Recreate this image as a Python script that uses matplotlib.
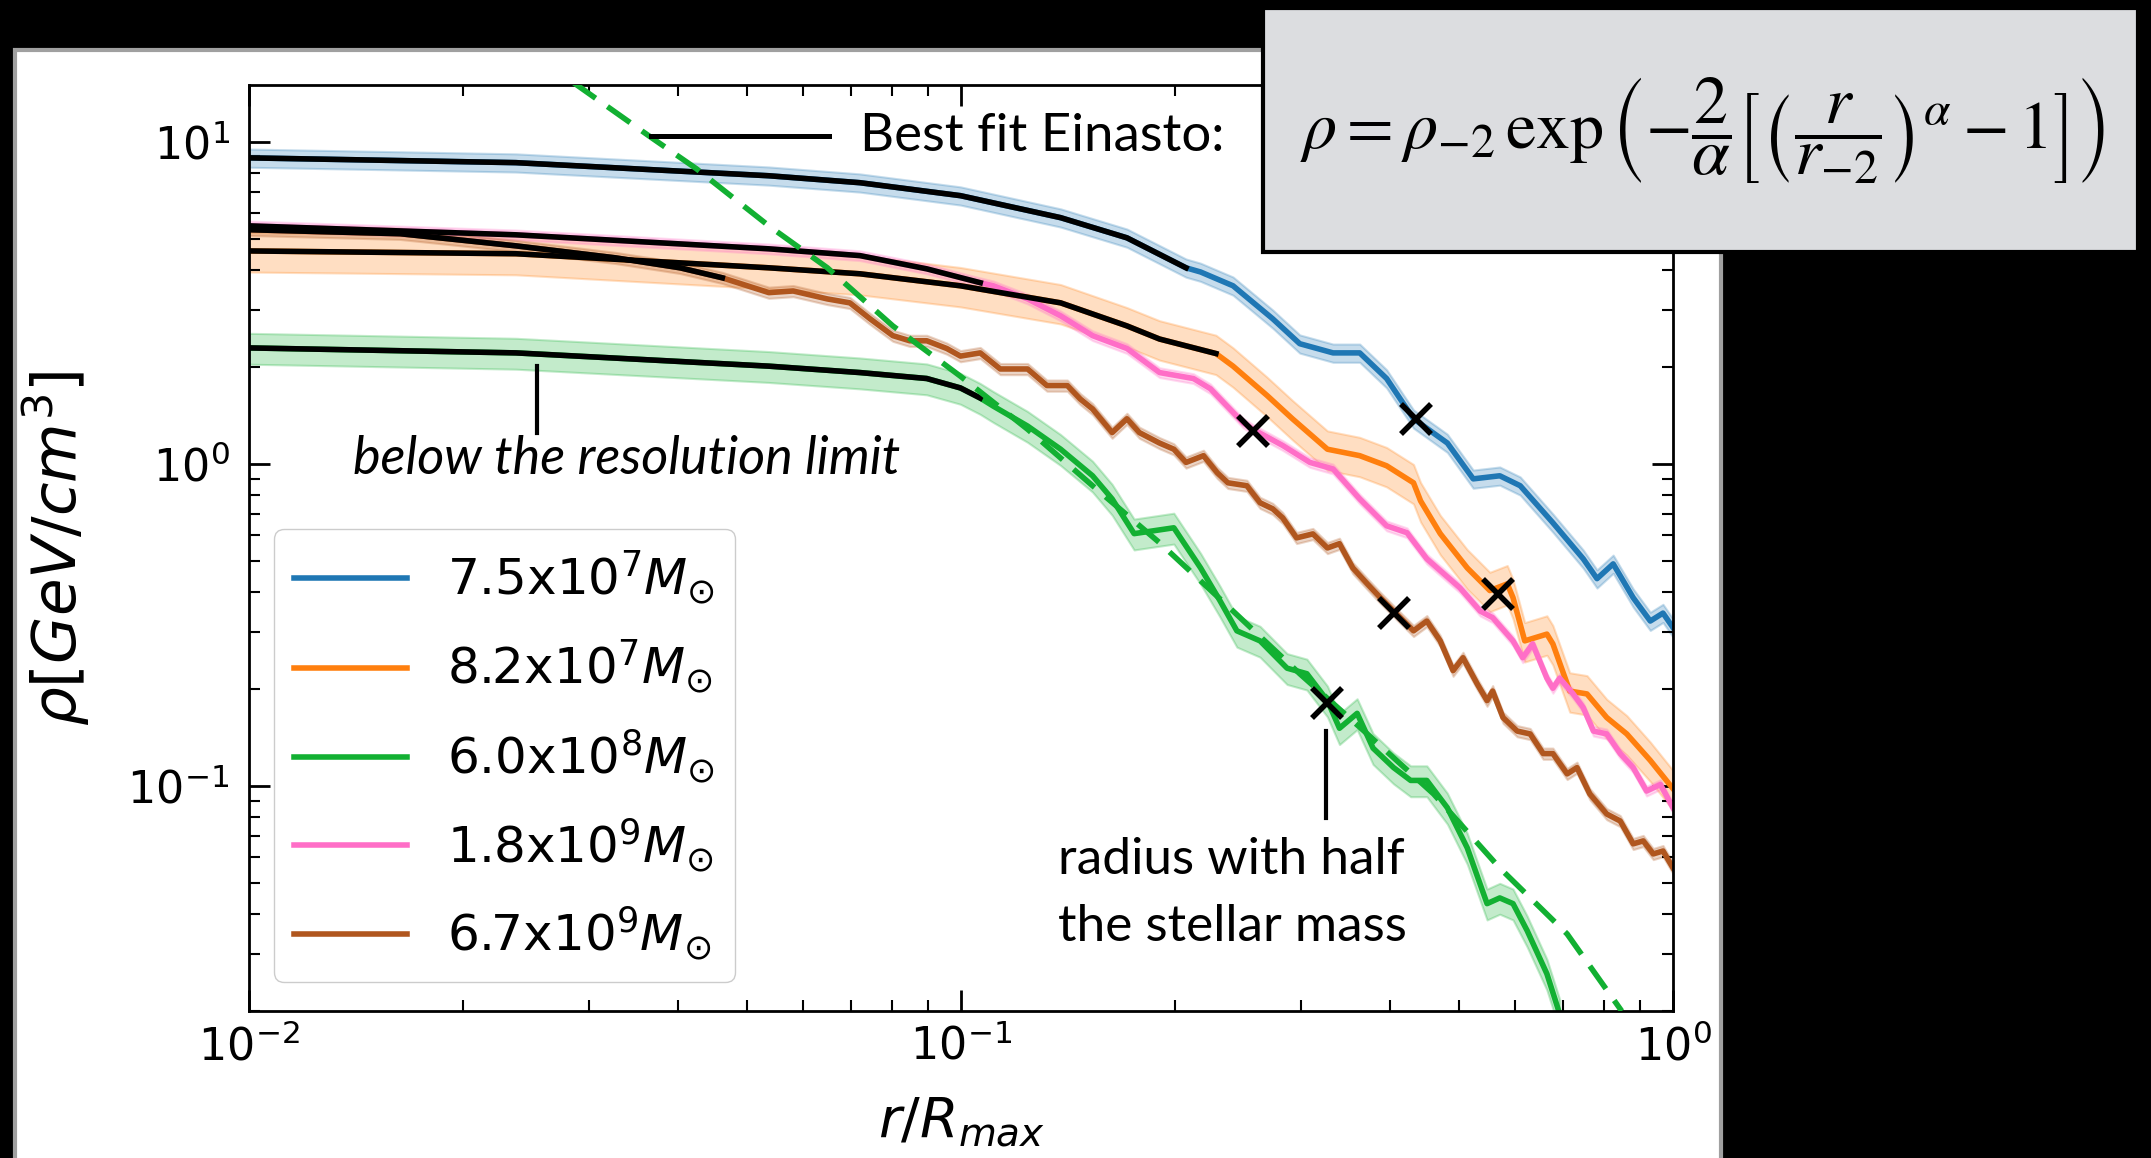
import matplotlib.pyplot as plt
from matplotlib.patches import Rectangle
import numpy as np

# density profiles, r in units of R_max, rho in GeV/cm^3
labels = [r'7.5x$10^{7}M_{\odot}$', r'8.2x$10^{7}M_{\odot}$', r'6.0x$10^{8}M_{\odot}$',
          r'1.8x$10^{9}M_{\odot}$', r'6.7x$10^{9}M_{\odot}$']
colors = ['#1f77b4', '#ff7f0e', '#12b032', '#ff6ec7', '#b0561e']

r_blue = [0.01, 0.0237, 0.0537, 0.0721, 0.0998, 0.138, 0.171, 0.207, 0.217, 0.241, 0.274,
          0.299, 0.333, 0.363, 0.396, 0.432, 0.482, 0.524, 0.571, 0.610, 0.678, 0.748,
          0.782, 0.824, 0.879, 0.929, 0.968, 1.0]
rho_blue = [8.91, 8.61, 7.84, 7.46, 6.80, 5.81, 5.03, 4.06, 3.94, 3.57, 2.82,
            2.36, 2.21, 2.21, 1.84, 1.38, 1.16, 0.898, 0.918, 0.855, 0.656, 0.507,
            0.440, 0.489, 0.384, 0.325, 0.344, 0.310]

r_orange = [0.01, 0.0237, 0.0537, 0.0721, 0.0998, 0.138, 0.171, 0.190, 0.228, 0.241, 0.269,
            0.292, 0.327, 0.363, 0.396, 0.432, 0.442, 0.471, 0.514, 0.553, 0.585, 0.596,
            0.619, 0.665, 0.678, 0.716, 0.757, 0.807, 0.861, 0.929, 1.0]
rho_orange = [4.58, 4.49, 4.06, 3.89, 3.57, 3.16, 2.68, 2.44, 2.20, 2.01, 1.63,
              1.38, 1.11, 1.06, 0.986, 0.873, 0.767, 0.607, 0.475, 0.404, 0.424, 0.384,
              0.282, 0.296, 0.276, 0.197, 0.193, 0.163, 0.145, 0.120, 0.098]

r_green = [0.01, 0.0237, 0.0537, 0.0721, 0.0895, 0.0998, 0.1064, 0.111, 0.124, 0.138,
           0.153, 0.163, 0.175, 0.199, 0.217, 0.231, 0.244, 0.263, 0.287, 0.306,
           0.327, 0.340, 0.360, 0.379, 0.405, 0.428, 0.451, 0.482, 0.514, 0.548,
           0.571, 0.596, 0.624, 0.665, 0.693]
rho_green = [2.29, 2.21, 2.01, 1.92, 1.84, 1.72, 1.60, 1.51, 1.31, 1.11,
             0.918, 0.778, 0.607, 0.633, 0.475, 0.376, 0.303, 0.282, 0.232, 0.223,
             0.184, 0.151, 0.168, 0.131, 0.114, 0.104, 0.104, 0.0855, 0.0642, 0.0431,
             0.0449, 0.0431, 0.0355, 0.0261, 0.0196]

r_pink = [0.01, 0.0237, 0.0537, 0.0721, 0.0895, 0.1064, 0.111, 0.124, 0.138, 0.153,
          0.171, 0.190, 0.212, 0.224, 0.249, 0.257, 0.283, 0.309, 0.333, 0.363,
          0.396, 0.423, 0.451, 0.471, 0.502, 0.536, 0.558, 0.596, 0.615, 0.635,
          0.665, 0.678, 0.693, 0.724, 0.748, 0.773, 0.807, 0.843, 0.879, 0.918,
          0.960, 1.0]
rho_pink = [5.48, 5.14, 4.65, 4.43, 4.03, 3.65, 3.57, 3.25, 2.88, 2.50,
            2.28, 1.92, 1.84, 1.71, 1.34, 1.28, 1.14, 1.01, 0.964, 0.778,
            0.642, 0.611, 0.507, 0.466, 0.412, 0.349, 0.333, 0.282, 0.250, 0.276,
            0.216, 0.201, 0.216, 0.193, 0.175, 0.148, 0.145, 0.126, 0.114, 0.0964,
            0.101, 0.0855]

r_brown = [0.01, 0.0163, 0.0237, 0.0327, 0.0403, 0.0462, 0.0537, 0.0581, 0.0649, 0.0698,
           0.0745, 0.0802, 0.0847, 0.0895, 0.0955, 0.0998, 0.1064, 0.1135, 0.124, 0.132,
           0.141, 0.147, 0.153, 0.163, 0.171, 0.178, 0.190, 0.199, 0.207, 0.219,
           0.229, 0.237, 0.252, 0.263, 0.274, 0.283, 0.296, 0.312, 0.327, 0.340,
           0.355, 0.372, 0.388, 0.405, 0.432, 0.451, 0.471, 0.491, 0.507, 0.531,
           0.548, 0.558, 0.577, 0.604, 0.630, 0.657, 0.678, 0.710, 0.733, 0.764,
           0.807, 0.843, 0.879, 0.908, 0.938, 0.968, 1.0]
rho_brown = [5.33, 5.18, 4.75, 4.36, 4.06, 3.78, 3.40, 3.44, 3.25, 3.16,
             2.82, 2.50, 2.41, 2.41, 2.28, 2.16, 2.21, 1.97, 1.97, 1.75,
             1.75, 1.59, 1.48, 1.25, 1.38, 1.25, 1.16, 1.11, 1.01, 1.06,
             0.938, 0.873, 0.855, 0.757, 0.725, 0.679, 0.589, 0.606, 0.548, 0.565,
             0.475, 0.424, 0.384, 0.349, 0.303, 0.325, 0.282, 0.228, 0.250, 0.207,
             0.184, 0.197, 0.163, 0.148, 0.145, 0.126, 0.126, 0.109, 0.114, 0.0944,
             0.0818, 0.0778, 0.0661, 0.0675, 0.0615, 0.0628, 0.0556]

# relative scatter (shaded band)
rel_err = [0.065, 0.14, 0.11, 0.035, 0.04]
# outermost radius of the Einasto fit (black) per halo
fit_end = [0.207, 0.228, 0.1064, 0.1064, 0.0462]

# half stellar mass radius markers
r_half = [0.435, 0.567, 0.327, 0.257, 0.405]
rho_half = [1.38, 0.395, 0.181, 1.26, 0.344]

# best fit Einasto of the 6.0e8 halo (dashed)
r_fit = [0.0285, 0.0365, 0.0425, 0.0537, 0.0649, 0.0802, 0.0998, 0.124, 0.153, 0.190,
         0.241, 0.299, 0.372, 0.461, 0.571, 0.710, 0.847]
rho_fit = [15.3, 10.4, 8.24, 5.48, 4.06, 2.68, 1.87, 1.28, 0.855, 0.569,
           0.349, 0.223, 0.145, 0.0944, 0.0556, 0.0347, 0.0200]

profiles = [(r_blue, rho_blue), (r_orange, rho_orange), (r_green, rho_green),
            (r_pink, rho_pink), (r_brown, rho_brown)]

fig = plt.figure(figsize=(21.51, 11.58), dpi=100, facecolor='black')

# white slide panel behind the plot
fig.patches.append(Rectangle((0.007, -0.02), 0.793, 0.977, transform=fig.transFigure,
                             facecolor='white', edgecolor='#a0a0a0', lw=3, zorder=-5))

ax = fig.add_axes([0.1158, 0.1269, 0.6620, 0.7997])
ax.set_facecolor('white')

for (r, rho), c, lab, e, rend in zip(profiles, colors, labels, rel_err, fit_end):
    r = np.array(r)
    rho = np.array(rho)
    ax.fill_between(r, rho * (1 - e), rho * (1 + e), color=c, alpha=0.25, lw=1.5, zorder=1)
    ax.plot(r, rho, color=c, lw=4, label=lab, zorder=2)
    m = r <= rend + 1e-9
    ax.plot(r[m], rho[m], color='black', lw=4, zorder=3)

ax.plot(r_fit, rho_fit, color=colors[2], lw=4, dashes=(5, 2.6), zorder=4)
ax.plot(r_half, rho_half, 'x', color='black', ms=22, mew=4, zorder=6)

ax.set_xscale('log')
ax.set_yscale('log')
ax.set_xlim(0.01, 1)
ax.set_ylim(0.02, 15)

ax.tick_params(which='both', direction='in', top=True, right=True)
ax.tick_params(which='major', length=15, width=2, labelsize=32)
ax.tick_params(which='minor', length=8, width=1.5)
ax.tick_params(axis='x', pad=10)
ax.tick_params(axis='y', pad=14)
for s in ax.spines.values():
    s.set_linewidth(2)

ax.set_ylabel(r'$\rho[GeV/cm^3]$', fontsize=44)
ax.yaxis.set_label_coords(-0.110, 0.5)
ax.set_xlabel(r'$r/R_{max}$', fontsize=40)
ax.xaxis.set_label_coords(0.5, -0.09)

ax.legend(loc='lower left', bbox_to_anchor=(0.0176, 0.0313), borderaxespad=0,
          fontsize=36, handlelength=2.25, handletextpad=0.8, labelspacing=0.62,
          borderpad=0.4, fancybox=True, framealpha=1, edgecolor='#cccccc')

# annotations
ann = dict(fontfamily='Lato', color='black')
ax.plot([0.0367, 0.0653], [10.4, 10.4], color='black', lw=3.6, zorder=5)
ax.text(0.0721, 9.38, 'Best fit Einasto:', fontsize=38, va='baseline', **ann)
ax.plot([0.0254, 0.0254], [2.01, 1.25], color='black', lw=3, zorder=5)
ax.text(0.0140, 0.931, 'below the resolution limit', fontsize=37.5, style='italic',
        va='baseline', **ann)
ax.plot([0.326, 0.326], [0.148, 0.0796], color='black', lw=3, zorder=5)
ax.text(0.137, 0.0533, 'radius with half', fontsize=37, va='baseline', **ann)
ax.text(0.137, 0.0330, 'the stellar mass', fontsize=37, va='baseline', **ann)

# Einasto formula box
fig.patches.append(Rectangle((0.5872, 0.7824), 0.4068, 0.2107, transform=fig.transFigure,
                             facecolor='#dcdde0', edgecolor='black', lw=3, zorder=10))
eq = (r'$\rho = \rho_{-2}\,\exp\left(-\dfrac{2}{\alpha}\left[\left(\dfrac{r}{r_{-2}}\right)^{\alpha}'
      r' - 1\right]\right)$')
fig.text(0.7913, 0.8869, eq, fontsize=49, math_fontfamily='stix', ha='center', va='center',
         zorder=11)

fig.savefig('out.png', dpi=100, facecolor='black')
